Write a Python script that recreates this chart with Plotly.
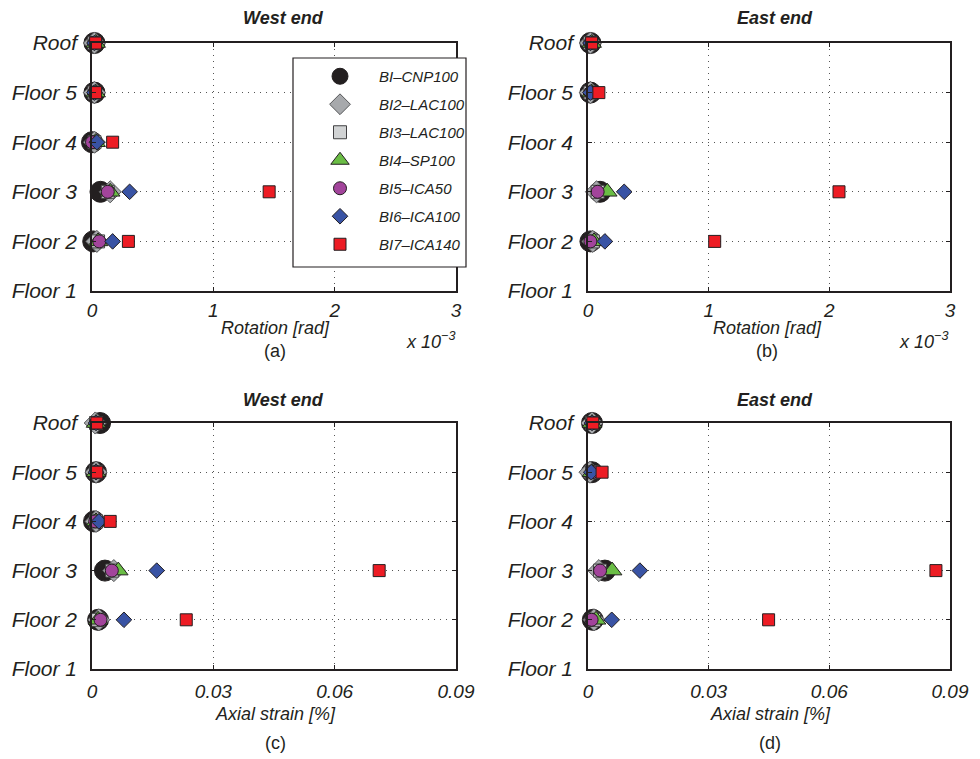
import plotly.graph_objects as go

# ---------------- data ----------------
floor_labels = ["Floor 1", "Floor 2", "Floor 3", "Floor 4", "Floor 5", "Roof"]
floor_levels = [1, 2, 3, 4, 5, 6]
data_levels = [2, 3, 4, 5, 6]          # Floor 2, Floor 3, Floor 4, Floor 5, Roof

series_names = ["BI–CNP100", "BI2–LAC100", "BI3–LAC100", "BI4–SP100",
                "BI5–ICA50", "BI6–ICA100", "BI7–ICA140"]

# Rotation [x 10^-3 rad], values for Floor 2, Floor 3, Floor 4, Floor 5, Roof
rot_west_cnp100 = [0.01, 0.07, 0.00, 0.02, 0.02]
rot_west_lac100 = [0.04, 0.15, 0.02, 0.02, 0.02]
rot_west_lac100b = [0.05, 0.13, 0.02, 0.02, 0.02]
rot_west_sp100 = [0.05, 0.15, 0.03, 0.03, 0.03]
rot_west_ica50 = [0.06, 0.13, 0.00, 0.02, 0.02]
rot_west_ica100 = [0.17, 0.31, 0.04, 0.02, 0.02]
rot_west_ica140 = [0.30, 1.46, 0.17, 0.03, 0.03]

rot_east_cnp100 = [0.02, 0.10, None, 0.02, 0.02]
rot_east_lac100 = [0.04, 0.07, None, 0.02, 0.02]
rot_east_lac100b = [0.04, 0.08, None, 0.02, 0.02]
rot_east_sp100 = [0.05, 0.16, None, 0.03, 0.03]
rot_east_ica50 = [0.02, 0.08, None, 0.02, 0.02]
rot_east_ica100 = [0.14, 0.30, None, 0.02, 0.02]
rot_east_ica140 = [1.05, 2.08, None, 0.09, 0.03]

# Axial strain [%], values for Floor 2, Floor 3, Floor 4, Floor 5, Roof
str_west_cnp100 = [0.0015, 0.0032, 0.0005, 0.0010, 0.0020]
str_west_lac100 = [0.0017, 0.0054, 0.0010, 0.0010, 0.0008]
str_west_lac100b = [0.0015, 0.0050, 0.0010, 0.0010, 0.0010]
str_west_sp100 = [0.0015, 0.0065, 0.0010, 0.0010, 0.0010]
str_west_ica50 = [0.0021, 0.0049, 0.0008, 0.0010, 0.0010]
str_west_ica100 = [0.0079, 0.0160, 0.0017, 0.0010, 0.0010]
str_west_ica140 = [0.0233, 0.0710, 0.0045, 0.0012, 0.0012]

str_east_cnp100 = [0.0012, 0.0042, None, 0.0010, 0.0010]
str_east_lac100 = [0.0015, 0.0027, None, 0.0005, 0.0010]
str_east_lac100b = [0.0015, 0.0030, None, 0.0010, 0.0010]
str_east_sp100 = [0.0020, 0.0060, None, 0.0010, 0.0010]
str_east_ica50 = [0.0009, 0.0030, None, 0.0010, 0.0010]
str_east_ica100 = [0.0059, 0.0129, None, 0.0008, 0.0010]
str_east_ica140 = [0.0449, 0.0865, None, 0.0035, 0.0012]

rot_ticks = [0, 1, 2, 3]
rot_ticktext = ["0", "1", "2", "3"]
str_ticks = [0, 0.03, 0.06, 0.09]
str_ticktext = ["0", "0.03", "0.06", "0.09"]

panels = [
    [rot_west_cnp100, rot_west_lac100, rot_west_lac100b, rot_west_sp100,
     rot_west_ica50, rot_west_ica100, rot_west_ica140],
    [rot_east_cnp100, rot_east_lac100, rot_east_lac100b, rot_east_sp100,
     rot_east_ica50, rot_east_ica100, rot_east_ica140],
    [str_west_cnp100, str_west_lac100, str_west_lac100b, str_west_sp100,
     str_west_ica50, str_west_ica100, str_west_ica140],
    [str_east_cnp100, str_east_lac100, str_east_lac100b, str_east_sp100,
     str_east_ica50, str_east_ica100, str_east_ica140],
]

# ---------------- styles ----------------
symbols = ["circle", "diamond", "square", "triangle-up", "circle", "diamond", "square"]
sizes = [21, 17, 13, 17, 13, 12, 12]
fills = ["#231f20", "#a7a9ac", "#d1d3d4", "#6abd45", "#a2449b", "#3953a4", "#ed1c24"]
edges = ["#231f20", "#58595b", "#414042", "#231f20", "#231f20", "#231f20", "#231f20"]

# page body has an 8px margin; the figure is sized to fill the rest of the window
OFF = 8
W, H = 980 - OFF, 759 - OFF
FONT = "Liberation Sans, Arial, sans-serif"
INK = "#231f20"


def px(x):
    return (x - OFF) / W


def py(y):
    return 1 - (y - OFF) / H


fig = go.Figure()

axes = [("x", "y"), ("x2", "y2"), ("x3", "y3"), ("x4", "y4")]
for p, (xa, ya) in enumerate(axes):
    for i, name in enumerate(series_names):
        fig.add_trace(go.Scatter(
            x=panels[p][i], y=data_levels, mode="markers", name=name,
            xaxis=xa, yaxis=ya, cliponaxis=False,
            legendgroup=name, showlegend=(p == 0),
            marker=dict(symbol=symbols[i], size=sizes[i], color=fills[i],
                        line=dict(color=edges[i], width=1)),
        ))

xdom_l = [px(92), px(456)]
xdom_r = [px(588), px(950)]
ydom_t = [py(291), py(43)]
ydom_b = [py(669), py(423)]

common_x = dict(showline=True, mirror="ticks", linecolor=INK, linewidth=1.5,
                ticks="inside", ticklen=4, tickcolor=INK,
                showgrid=True, gridcolor="#555555", gridwidth=1, griddash="1px,5px",
                zeroline=False, automargin=False,
                tickfont=dict(family=FONT, size=19, color=INK, style="italic"))
common_y = dict(showline=True, mirror="ticks", linecolor=INK, linewidth=1.5,
                ticks="inside", ticklen=4, tickcolor=INK,
                showgrid=True, gridcolor="#555555", gridwidth=1, griddash="1px,5px",
                zeroline=False, automargin=False,
                range=[1, 6], tickvals=floor_levels, ticktext=floor_labels,
                tickfont=dict(family=FONT, size=21, color=INK, style="italic"),
                ticklabelstandoff=9)

fig.update_layout(
    width=W, height=H, margin=dict(l=0, r=0, t=0, b=0, autoexpand=False),
    paper_bgcolor="white", plot_bgcolor="white",
    font=dict(family=FONT, color=INK),
    xaxis=dict(domain=xdom_l, anchor="y", range=[0, 3], tickvals=rot_ticks, ticktext=rot_ticktext,
               ticklabelstandoff=1, **common_x),
    yaxis=dict(domain=ydom_t, anchor="x", **common_y),
    xaxis2=dict(domain=xdom_r, anchor="y2", range=[0, 3], tickvals=rot_ticks, ticktext=rot_ticktext,
                ticklabelstandoff=1, **common_x),
    yaxis2=dict(domain=ydom_t, anchor="x2", **common_y),
    xaxis3=dict(domain=xdom_l, anchor="y3", range=[0, 0.09], tickvals=str_ticks, ticktext=str_ticktext,
                ticklabelstandoff=4, **common_x),
    yaxis3=dict(domain=ydom_b, anchor="x3", **common_y),
    xaxis4=dict(domain=xdom_r, anchor="y4", range=[0, 0.09], tickvals=str_ticks, ticktext=str_ticktext,
                ticklabelstandoff=4, **common_x),
    yaxis4=dict(domain=ydom_b, anchor="x4", **common_y),
    showlegend=True,
    legend=dict(x=px(301), y=py(60), xanchor="left", yanchor="top",
                bgcolor="rgba(0,0,0,0)", borderwidth=0,
                font=dict(family=FONT, size=15, color=INK, style="italic"),
                itemwidth=68, tracegroupgap=5.5, itemsizing="trace"),
    hovermode=False,
)

# legend frame
fig.add_shape(type="rect", xref="paper", yref="paper",
              x0=px(293), x1=px(466), y0=py(267), y1=py(58),
              fillcolor="white", line=dict(color=INK, width=1.2), layer="above")


def ann(text, x, y, size=18, style="italic", weight="normal"):
    fig.add_annotation(text=text, x=px(x), y=py(y), xref="paper", yref="paper",
                       showarrow=False, xanchor="center", yanchor="middle",
                       font=dict(family=FONT, size=size, color=INK, style=style, weight=weight))


ann("West end", 283, 18, 18, "italic", "bold")
ann("East end", 775, 18, 18, "italic", "bold")
ann("West end", 283, 400, 18, "italic", "bold")
ann("East end", 775, 400, 18, "italic", "bold")
ann("Rotation [rad]", 275, 328, 18)
ann("Rotation [rad]", 767, 328, 18)
ann("x 10<sup>−3</sup>", 430, 340, 18)
ann("x 10<sup>−3</sup>", 923, 340, 18)
ann("(a)", 275, 351, 18, "normal")
ann("(b)", 767, 351, 18, "normal")
ann("Axial strain [%]", 275, 714, 18)
ann("Axial strain [%]", 770, 714, 18)
ann("(c)", 275, 743, 18, "normal")
ann("(d)", 770, 743, 18, "normal")

fig.write_html("out.html")
